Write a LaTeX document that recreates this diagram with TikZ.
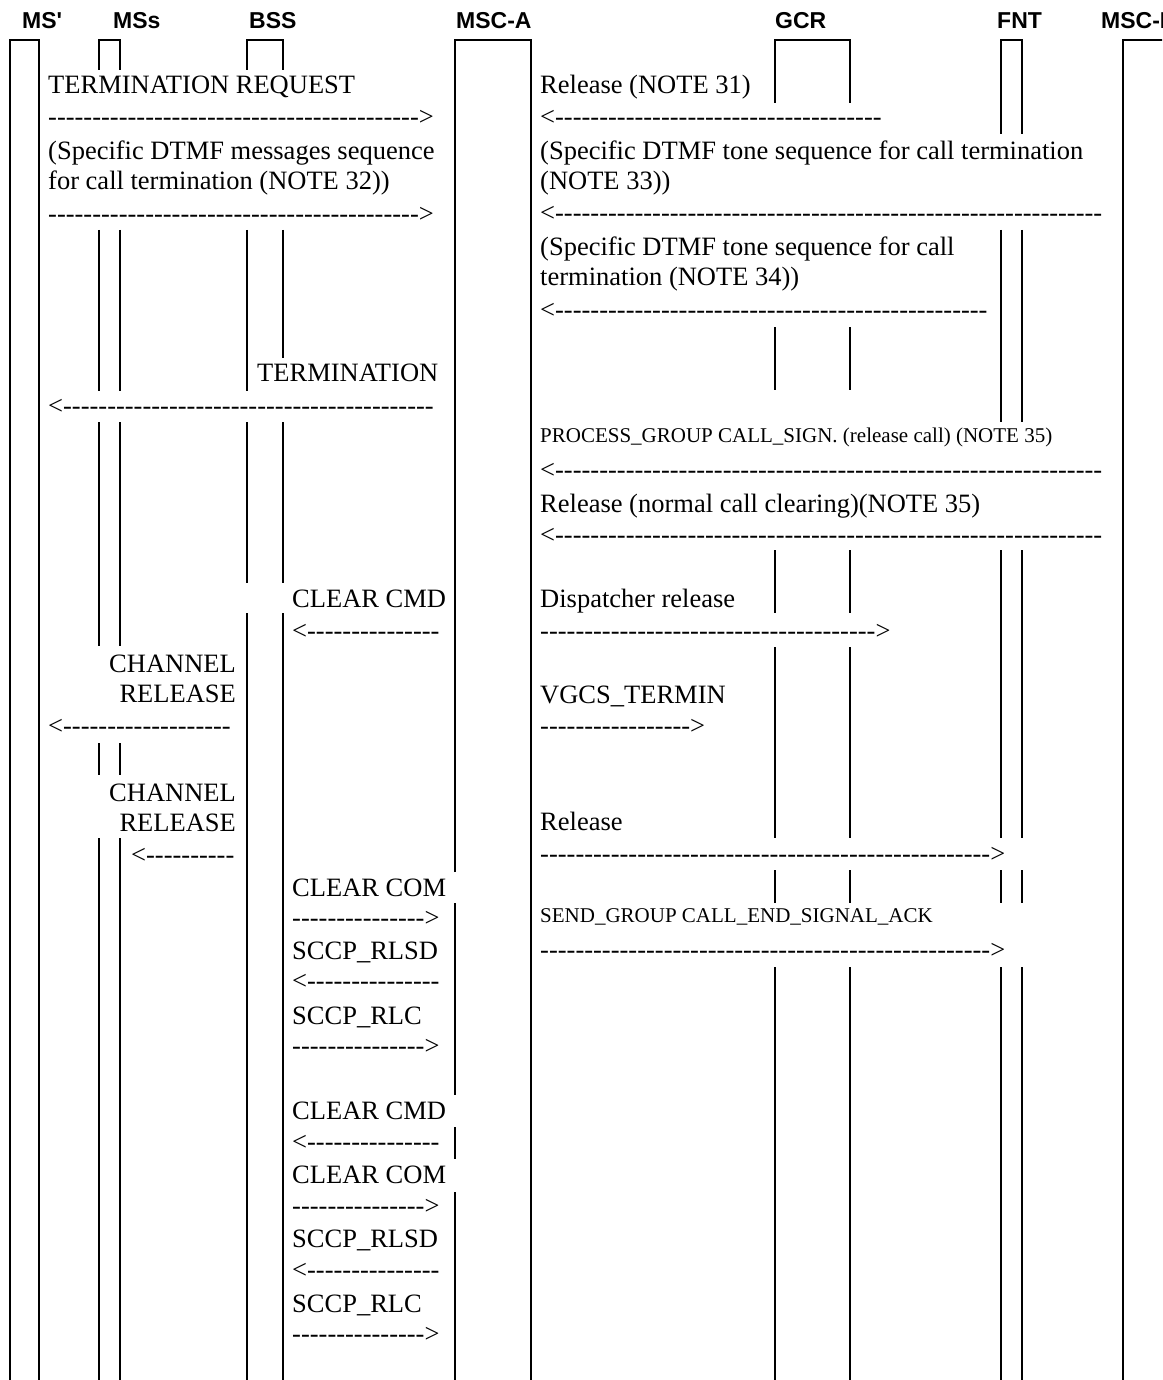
\documentclass[tikz,border=0pt]{standalone}
\usepackage{fontspec}
\setmainfont{Liberation Serif}
\newfontfamily\hdrfont{Liberation Sans}[Ligatures=TeXOff]
\makeatletter
\newcommand\dsh[1]{{\count@=#1\relax\loop\ifnum\count@>0 -\kern0pt\advance\count@ by -1 \repeat}}
\makeatother
\newcommand\lt{<\kern0pt}
\newcommand\gt{\kern0pt>}
\tikzset{
  lbl/.style={anchor=base west, inner sep=0pt, font=\fontsize{26.5}{30}\selectfont},
  lblr/.style={anchor=base east, inner sep=0pt, font=\fontsize{26.5}{30}\selectfont},
  small/.style={anchor=base west, inner sep=0pt, font=\fontsize{21}{24}\selectfont},
  hdr/.style={anchor=base west, inner sep=0pt, font=\hdrfont\bfseries\fontsize{23}{26}\selectfont},
  life/.style={line width=2pt},
}
\begin{document}
\begin{tikzpicture}[x=1pt,y=-1pt]
\useasboundingbox (0,0) rectangle (1162,1380);
\clip (0,0) rectangle (1162,1380);
\fill[white] (0,0) rectangle (1162,1380);

% headers
\node[hdr] (hMSp) at (22,29) {MS'};
\node[hdr] (hMSs) at (113,29) {MSs};
\node[hdr] (hBSS) at (249,29) {BSS};
\node[hdr] (hMSCA) at (456,29) {MSC-A};
\node[hdr] (hGCR) at (775,29) {GCR};
\node[hdr] (hFNT) at (997,29) {FNT};
\node[hdr] (hMSCF) at (1101,29) {MSC-F};

% life lines
\draw[life] (10,1380) -- (10,40) -- (39,40) -- (39,1380);
\draw[life] (99,70) -- (99,40) -- (120,40) -- (120,70);
\foreach \x in {99,120}
  \foreach \a/\b in {230/391,422/646,743/775,838/1380}
    \draw[life] (\x,\a) -- (\x,\b);
\draw[life] (247,70) -- (247,40) -- (283,40) -- (283,70);
\draw[life] (247,230) -- (247,391);
\draw[life] (283,230) -- (283,358);
\foreach \x in {247,283}
  \foreach \a/\b in {422/583,613/1380}
    \draw[life] (\x,\a) -- (\x,\b);
\draw[life] (455,872) -- (455,40) -- (531,40) -- (531,1380);
\foreach \a/\b in {903/1095,1127/1159,1192/1380}
  \draw[life] (455,\a) -- (455,\b);
\draw[life] (775,103) -- (775,40) -- (850,40) -- (850,103);
\foreach \x in {775,850}
  \foreach \a/\b in {327/390,550/613,647/838,870/903,967/1380}
    \draw[life] (\x,\a) -- (\x,\b);
\draw[life] (1001,134) -- (1001,40) -- (1022,40) -- (1022,134);
\foreach \x in {1001,1022}
  \foreach \a/\b in {230/422,550/838,870/903,967/1380}
    \draw[life] (\x,\a) -- (\x,\b);
\draw[life] (1123,1380) -- (1123,40) -- (1170,40);

% left column
\node[lbl] (t1) at (48,94) {TERMINATION REQUEST};
\node[lbl] (a1) at (48,126) {\dsh{42}\gt};
\node[lbl] (t2) at (48,160) {(Specific DTMF messages sequence};
\node[lbl] (t3) at (48,190) {for call termination (NOTE 32))};
\node[lbl] (a2) at (48,223) {\dsh{42}\gt};
\node[lbl] (t4) at (257,381) {TERMINATION};
\node[lbl] (a3) at (48,414) {\lt\dsh{42}};
\node[lbl] (t5) at (292,607) {CLEAR CMD};
\node[lbl] (a4) at (292,639) {\lt\dsh{15}};
\node[lblr] (t6) at (236,672) {CHANNEL};
\node[lblr] (t7) at (236,702) {RELEASE};
\node[lbl] (a5) at (48,734) {\lt\dsh{19}};
\node[lblr] (t8) at (236,801) {CHANNEL};
\node[lblr] (t9) at (236,831) {RELEASE};
\node[lbl] (a6) at (131,863) {\lt\dsh{10}};
\node[lbl] (t10) at (292,896) {CLEAR COM};
\node[lbl] (a7) at (292,926) {\dsh{15}\gt};
\node[lbl] (t11) at (292,959) {SCCP\_RLSD};
\node[lbl] (a8) at (292,989) {\lt\dsh{15}};
\node[lbl] (t12) at (292,1024) {SCCP\_RLC};
\node[lbl] (a9) at (292,1054) {\dsh{15}\gt};
\node[lbl] (t13) at (292,1119) {CLEAR CMD};
\node[lbl] (a10) at (292,1150) {\lt\dsh{15}};
\node[lbl] (t14) at (292,1183) {CLEAR COM};
\node[lbl] (a11) at (292,1214) {\dsh{15}\gt};
\node[lbl] (t15) at (292,1247) {SCCP\_RLSD};
\node[lbl] (a12) at (292,1278) {\lt\dsh{15}};
\node[lbl] (t16) at (292,1312) {SCCP\_RLC};
\node[lbl] (a13) at (292,1342) {\dsh{15}\gt};

% right column
\node[lbl] (u1) at (540,94) {Release (NOTE 31)};
\node[lbl] (r1) at (540,126) {\lt\dsh{37}};
\node[lbl] (u2) at (540,160) {(Specific DTMF tone sequence for call termination};
\node[lbl] (u3) at (540,190) {(NOTE 33))};
\node[lbl] (r2) at (540,222) {\lt\dsh{62}};
\node[lbl] (u4) at (540,255) {(Specific DTMF tone sequence for call};
\node[lbl] (u5) at (540,285) {termination (NOTE 34))};
\node[lbl] (r3) at (540,318) {\lt\dsh{49}};
\node[small] (u6) at (540,442) {PROCESS\_GROUP CALL\_SIGN. (release call) (NOTE 35)};
\node[lbl] (r4) at (540,478) {\lt\dsh{62}};
\node[lbl] (u7) at (540,512) {Release (normal call clearing)(NOTE 35)};
\node[lbl] (r5) at (540,543) {\lt\dsh{62}};
\node[lbl] (u8) at (540,607) {Dispatcher release};
\node[lbl] (r6) at (540,639) {\dsh{38}\gt};
\node[lbl] (u9) at (540,703) {VGCS\_TERMIN};
\node[lbl] (r7) at (540,734) {\dsh{17}\gt};
\node[lbl] (u10) at (540,830) {Release};
\node[lbl] (r8) at (540,862) {\dsh{51}\gt};
\node[small] (u11) at (540,922) {SEND\_GROUP CALL\_END\_SIGNAL\_ACK};
\node[lbl] (r9) at (540,958) {\dsh{51}\gt};
\end{tikzpicture}
\end{document}
